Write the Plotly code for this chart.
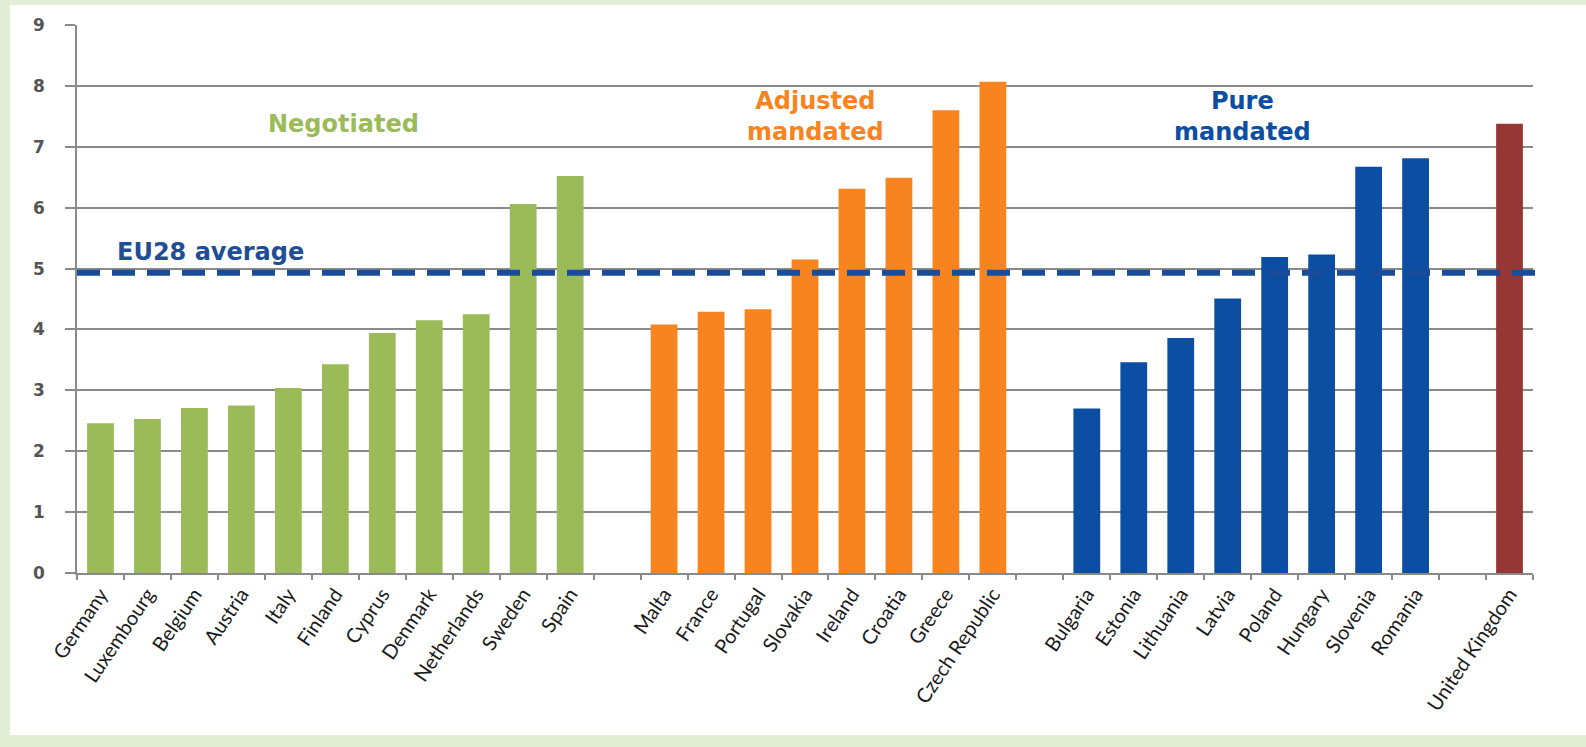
import plotly.graph_objects as go

# Country groups and their values
negotiated = ["Germany", "Luxembourg", "Belgium", "Austria", "Italy", "Finland",
              "Cyprus", "Denmark", "Netherlands", "Sweden", "Spain"]
negotiated_vals = [2.46, 2.53, 2.71, 2.75, 3.04, 3.43, 3.94, 4.15, 4.25, 6.06, 6.52]

adjusted = ["Malta", "France", "Portugal", "Slovakia", "Ireland", "Croatia",
            "Greece", "Czech Republic"]
adjusted_vals = [4.08, 4.29, 4.33, 5.15, 6.31, 6.49, 7.60, 8.07]

pure = ["Bulgaria", "Estonia", "Lithuania", "Latvia", "Poland", "Hungary",
        "Slovenia", "Romania"]
pure_vals = [2.70, 3.46, 3.86, 4.51, 5.19, 5.23, 6.67, 6.81]

uk = ["United Kingdom"]
uk_vals = [7.38]

eu28_avg = 4.93
y_ticks = [0, 1, 2, 3, 4, 5, 6, 7, 8, 9]

groups = [
    (negotiated, negotiated_vals, "#9BBB59"),
    (adjusted, adjusted_vals, "#F7841F"),
    (pure, pure_vals, "#0B4EA2"),
    (uk, uk_vals, "#953735"),
]

# Lay the groups out along a numeric axis with one empty slot between groups
fig = go.Figure()
tick_pos, tick_txt = [], []
slot = 0
for names, vals, color in groups:
    xs = list(range(slot, slot + len(names)))
    fig.add_trace(go.Bar(x=xs, y=vals, marker=dict(color=color, line=dict(width=0)),
                         width=0.57, showlegend=False, hoverinfo="skip"))
    tick_pos += xs
    tick_txt += names
    slot += len(names) + 1
n_slots = slot - 1

W, H = 1586, 747
ml, mr, mt, mb = 77, 53, 25, 174
pw = W - ml - mr
ph = H - mt - mb

grid = "#8A8A8A"
fig.update_layout(
    width=W, height=H,
    margin=dict(l=ml, r=mr, t=mt, b=mb),
    paper_bgcolor="#E3EFD5",
    plot_bgcolor="white",
    barmode="overlay",
    xaxis=dict(
        range=[-0.5, n_slots - 0.5],
        tickmode="array", tickvals=tick_pos, ticktext=tick_txt,
        ticks="", tickangle=-56,
        tickfont=dict(family="Lato", size=20, color="#1A1A1A"),
        showgrid=False, zeroline=False,
        showline=True, linecolor=grid, linewidth=1.5,
        minor=dict(tickmode="array", tickvals=[k - 0.5 for k in range(n_slots + 1)],
                   ticks="outside", ticklen=5, tickcolor=grid, tickwidth=1.5),
    ),
    yaxis=dict(
        range=[0, 9], tickmode="array", tickvals=y_ticks,
        ticks="outside", ticklen=10, tickcolor=grid, tickwidth=1.5,
        ticklabelstandoff=17,
        tickfont=dict(family="DejaVu Sans", size=17, color="#555555", weight="bold"),
        showgrid=True, gridcolor=grid, gridwidth=1.5,
        zeroline=False, showline=True, linecolor=grid, linewidth=1.5,
    ),
)

# White card behind the chart, leaving a green frame at left, top and bottom
fig.add_shape(type="rect", xref="paper", yref="paper", layer="below",
              x0=(10 - ml) / pw, x1=(W - ml) / pw,
              y0=(H - mb - 735) / ph, y1=(H - mb - 5) / ph,
              fillcolor="white", line=dict(width=0))

# EU28 average dashed reference line
fig.add_shape(type="line", xref="paper", yref="y",
              x0=0, x1=1.003, y0=eu28_avg, y1=eu28_avg,
              line=dict(color="#1A4C9C", width=6, dash="23px,12px"))

label_font = dict(family="DejaVu Sans", size=24, weight="bold")
fig.add_annotation(xref="paper", yref="y", x=(115 - ml) / pw, y=5.27,
                   text="EU28 average", showarrow=False, xanchor="left",
                   font=dict(label_font, color="#1F4E96"))
fig.add_annotation(xref="paper", yref="y", x=(343 - ml) / pw, y=7.37,
                   text="Negotiated", showarrow=False, xanchor="center",
                   font=dict(label_font, color="#9BBB59"))
fig.add_annotation(xref="paper", yref="y", x=(815 - ml) / pw, y=7.5,
                   text="Adjusted<br>mandated", showarrow=False, xanchor="center",
                   font=dict(label_font, color="#F7841F"))
fig.add_annotation(xref="paper", yref="y", x=(1242 - ml) / pw, y=7.5,
                   text="Pure<br>mandated", showarrow=False, xanchor="center",
                   font=dict(label_font, color="#0B4EA2"))

fig.write_html("out.html")
